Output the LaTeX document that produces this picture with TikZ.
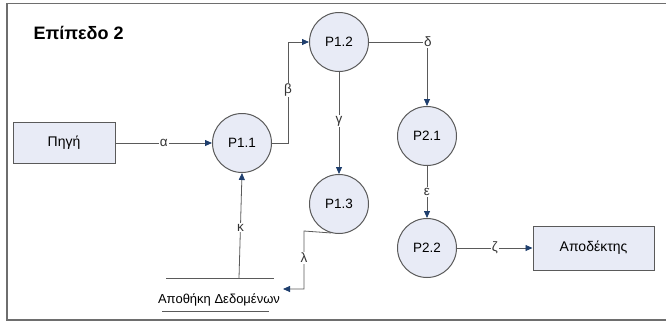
\documentclass[tikz,border=0pt]{standalone}
\usepackage{fontspec}
\setmainfont{Liberation Sans}
\usetikzlibrary{arrows.meta}
\definecolor{procfill}{HTML}{E8EBF6}
\definecolor{edgegrey}{HTML}{5A5A5A}
\definecolor{tipblue}{HTML}{1F3F6E}
\definecolor{framegrey}{HTML}{6E6E6E}
\tikzset{
  proc/.style={circle, draw=edgegrey, line width=1pt, fill=procfill,
    minimum size=59pt, inner sep=0pt, font=\fontsize{13.5}{15}\selectfont},
  ext/.style={rectangle, draw=edgegrey, line width=1pt, fill=procfill,
    inner sep=0pt, font=\fontsize{14}{16}\selectfont},
  flow/.style={draw=edgegrey, line width=0.8pt,
    -{Triangle[length=7pt,width=6pt,color=tipblue]}},
  plainline/.style={draw=edgegrey, line width=0.8pt},
  lbl/.style={fill=white, inner sep=1.2pt, font=\fontsize{13.5}{15}\selectfont, text=black!80},
}
\begin{document}
\begin{tikzpicture}[x=1pt,y=-1pt]
  \useasboundingbox (0,0) rectangle (666,322);
  % frame
  \draw[framegrey, line width=1.8pt] (667,3.5) -- (7,3.5) -- (7,320) -- (667,320);

  % title
  \node[anchor=west, font=\bfseries\fontsize{18}{21}\selectfont] (title) at (30,33) {Επίπεδο 2};

  % external entities
  \node[ext, minimum width=102pt, minimum height=41pt] (src) at (64,143) {Πηγή};
  \node[ext, minimum width=121pt, minimum height=44pt] (dst) at (593.5,248) {Αποδέκτης};

  % processes
  \node[proc] (p11) at (242,143) {P1.1};
  \node[proc] (p12) at (339,42) {P1.2};
  \node[proc] (p13) at (339,204) {P1.3};
  \node[proc] (p21) at (427,136) {P2.1};
  \node[proc] (p22) at (427,248) {P2.2};

  % data store
  \node[font=\fontsize{13}{15}\selectfont, inner sep=1pt] (store) at (219,300) {Αποθήκη Δεδομένων};
  \coordinate (storeTL) at (166,278);
  \coordinate (storeTR) at (274,278);
  \coordinate (storeBL) at (162,311);
  \coordinate (storeBR) at (269,311);
  \draw[plainline] (storeTL) -- (storeTR);
  \draw[plainline] (storeBL) -- (storeBR);
  \coordinate (storeOut) at (239,278);
  \coordinate (storeIn) at (283,289);

  % flows
  \draw[flow] (src.east) -- node[lbl] {α} (p11.west);
  \draw[flow] (p11.east) -- ++(16,0) coordinate (bturn) |- (p12.west);
  \node[lbl] at (288,90) {β};
  \draw[flow] (p12.east) -| (p21.north);
  \node[lbl] at (428,42) {δ};
  \draw[flow] (p12.south) -- node[lbl, pos=0.48] {γ} (p13.north);
  \draw[flow] (p21.south) -- node[lbl] {ε} (p22.north);
  \draw[flow] (p22.east) -- node[lbl] {ζ} (dst.west);
  \draw[flow] (storeOut) -- node[lbl, pos=0.48] {κ} (p11.south);
  \draw[flow] (p13.255) -- (304,231) -- (304,289) -- (storeIn);
  \node[lbl] at (304,258) {λ};
\end{tikzpicture}
\end{document}
